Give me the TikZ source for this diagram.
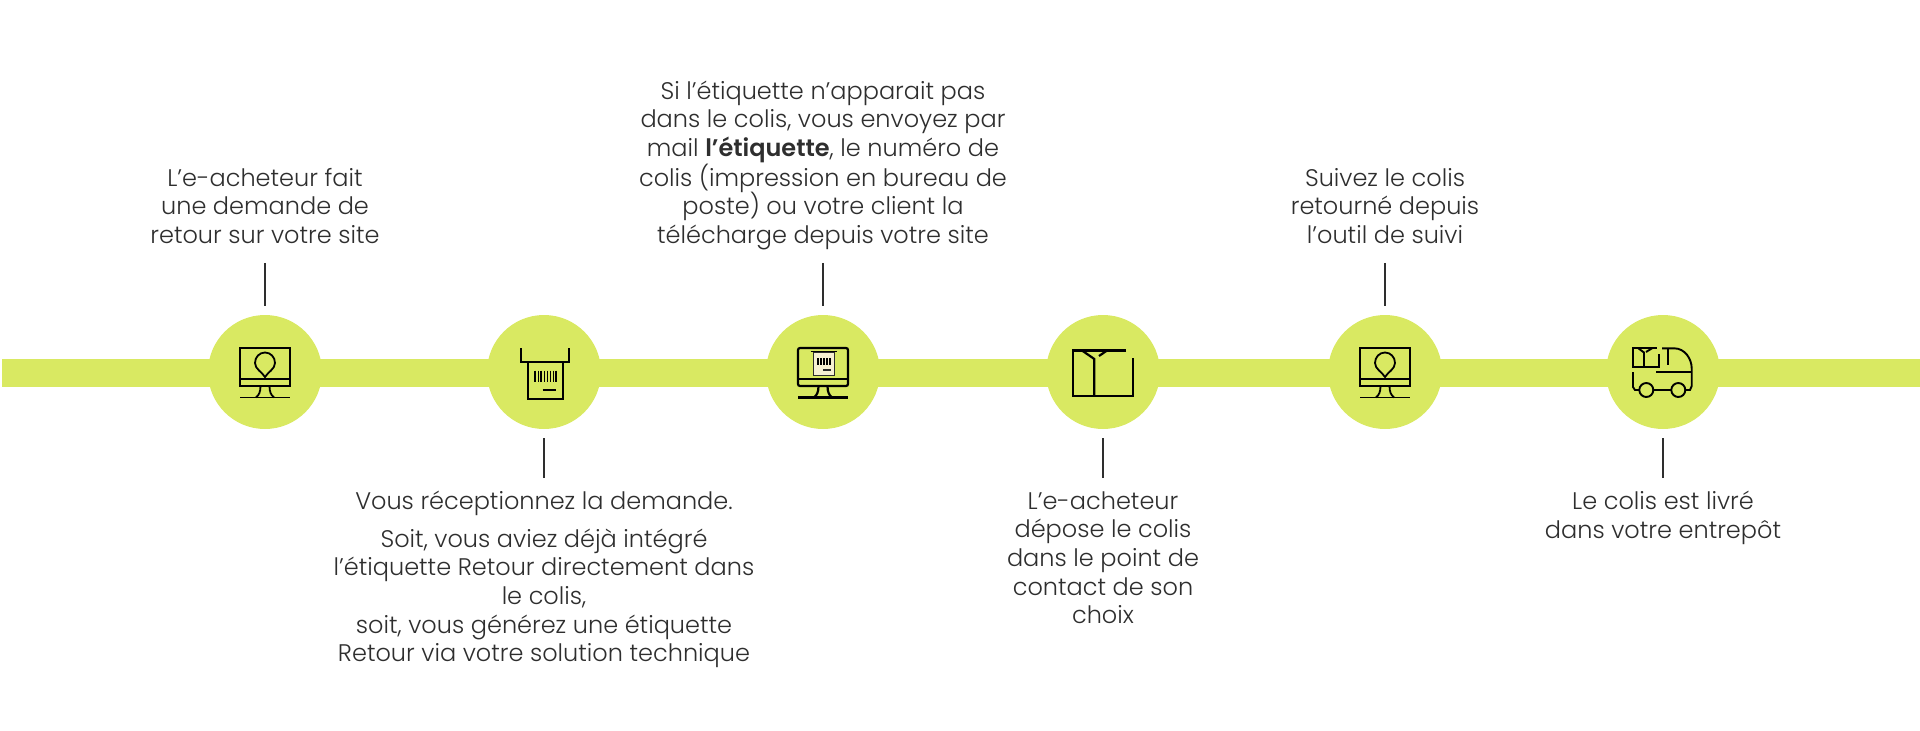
\documentclass[tikz,border=0pt]{standalone}
\usepackage{fontspec}
\setmainfont{Poppins Light}[BoldFont={Poppins SemiBold}]
\usetikzlibrary{positioning}
\definecolor{limebar}{HTML}{D9E962}
\definecolor{inkgrey}{HTML}{2E2E2E}
\definecolor{labelcream}{HTML}{F6F0D2}

\begin{document}
\begin{tikzpicture}[
    x=1pt,y=-1pt,
    stopc/.style ={
        circle,
        fill=limebar,
        minimum size=114pt,
        inner sep=0pt,
    },
    infotext/.style ={
        align=center,
        inner sep=0pt,
        text=inkgrey,
        text depth=6pt,
        font=\fontsize{24}{28.7}\selectfont,
    },
    tick/.style ={
        draw=inkgrey,
        line width=1.5pt,
        shorten <=13pt,
        shorten >=9pt,
    },
    icon/.style ={
        draw=black,
        line width=1.9pt,
    },
    pics/screen/.style args={#1/#2}{
        code={
            \draw[icon,line width=#1pt,rounded corners=#2pt] (-25,-24) rectangle (25,14);
            \draw[icon,line width=#1pt] (-25,7) -- (25,7);
            \draw[icon,line width=#1pt] (-25,25.5) -- (25,25.5);
            \draw[icon,line width=#1pt] (-4.5,14) .. controls (-4.5,20) and (-6,23) .. (-9,25.5);
            \draw[icon,line width=#1pt] (4.5,14) .. controls (4.5,20) and (6,23) .. (9,25.5);
        }
    },
    pics/pinscreen/.style={
        code={
            \pic {screen=1.8/0};
            \draw[icon,line width=1.8pt] (0,5) .. controls (-3,0) and (-10,-3) .. (-10,-9)
                .. controls (-10,-15) and (-5.5,-19.5) .. (0,-19.5)
                .. controls (5.5,-19.5) and (10,-15) .. (10,-9)
                .. controls (10,-3) and (3,0) .. cycle;
        }
    },
    pics/labelscreen/.style={
        code={
            \pic {screen=2.2/2};
            \draw[draw=inkgrey,fill=labelcream,line width=1pt] (-10,-19.5) rectangle (11.5,3);
            \draw[icon] (-12.5,-20.5) -- (14,-20.5);
            \foreach \bx in {-5,-2,1,4,7}
                \draw[icon,line width=1.5pt] (\bx,-14) -- (\bx,-7);
            \draw[inkgrey,line width=1.3pt] (0,-2) -- (7.5,-2);
        }
    },
    pics/receipt/.style={
        code={
            \draw[icon] (-23,-24) -- (-23,-10.3) -- (25.3,-10.3) -- (25.3,-24);
            \draw[icon] (-16,-10.3) -- (-16,27) -- (19.3,27) -- (19.3,-10.3);
            \foreach \bx/\bw in {-9/1.5,-5.5/.8,-3/1.5,0.5/.8,3.5/1.5,6.5/1.5,9.5/.8,12/1.5}
                \draw[icon,line width=\bw pt] (\bx,-1.3) -- (\bx,9.7);
            \draw[icon] (-1.3,18) -- (12,18);
        }
    },
    pics/parcel/.style={
        code={
            \draw[icon,line width=2.2pt] (23,-21.5) -- (-30,-21.5) -- (-30,24) -- (30,24) -- (30,-14);
            \draw[icon,line width=2.2pt] (-8.7,24) -- (-8.7,-13) -- (-21,-21.5);
            \draw[icon,line width=2.2pt] (4,-21.5) -- (-4,-16);
        }
    },
    pics/truck/.style={
        code={
            % load
            \draw[icon] (-4,-18) -- (-4,-5.3) -- (-30,-5.3) -- (-30,-23.7) -- (-6,-23.7);
            \draw[icon] (-19,-5.3) -- (-19,-19.5) -- (-24.7,-23.7);
            \draw[icon] (-11,-23.7) -- (-17,-20);
            % cab
            \draw[icon] (-1,-23.7) -- (11,-23.7) .. controls (22,-23.7) and (28.7,-13) .. (28.7,-3.7) -- (28.7,14) -- (27,18) -- (22.3,18);
            \draw[icon] (5.3,-23.7) -- (5.3,-7);
            \draw[icon] (-6.7,0) -- (28.7,0);
            % chassis
            \draw[icon] (-30,0) -- (-30,15) -- (-28,18) -- (-23.7,18);
            \draw[icon] (-9.7,18) -- (8.3,18);
            \draw[icon] (-16.7,18) circle (7);
            \draw[icon] (15.3,18) circle (7);
        }
    },
    ]
    % bar
    \node[inner sep=0pt,minimum width=1918pt,minimum height=28pt,fill=limebar] (bar) at (961,373) {};
    % stops
    \node[stopc] (s1) at (265,372) {};
    \node[stopc] (s2) at (544,372) {};
    \node[stopc] (s3) at (823,372) {};
    \node[stopc] (s4) at (1103,372) {};
    \node[stopc] (s5) at (1385,372) {};
    \node[stopc] (s6) at (1663,372) {};
    % texts
    \node[infotext,above=65pt of s1] (t1) {L’e-acheteur fait\\une demande de\\retour sur votre site};
    \node[infotext,below=62pt of s2.south,anchor=north] (t2) {Vous réceptionnez la demande.\\[8.6pt]Soit, vous aviez déjà intégré\\l’étiquette Retour directement dans\\le colis,\\soit, vous générez une étiquette\\Retour via votre solution technique};
    \node[infotext,above=65pt of s3] (t3) {Si l’étiquette n’apparait pas\\dans le colis, vous envoyez par\\mail \textbf{l’étiquette}, le numéro de\\colis (impression en bureau de\\poste) ou votre client la\\télécharge depuis votre site};
    \node[infotext,below=62pt of s4.south,anchor=north] (t4) {L’e-acheteur\\dépose le colis\\dans le point de\\contact de son\\choix};
    \node[infotext,above=65pt of s5] (t5) {Suivez le colis\\retourné depuis\\l’outil de suivi};
    \node[infotext,below=62pt of s6.south,anchor=north] (t6) {Le colis est livré\\dans votre entrepôt};
    % ticks
    \foreach \n in {1,...,6}
        \draw[tick] (t\n) -- (s\n);
    % icons
    \pic at (s1) {pinscreen};
    \pic at (s2) {receipt};
    \pic at (s3) {labelscreen};
    \pic at (s4) {parcel};
    \pic at (s5) {pinscreen};
    \pic at (s6) {truck};
    \useasboundingbox (0,0) rectangle (1920,731);
\end{tikzpicture}
\end{document}
